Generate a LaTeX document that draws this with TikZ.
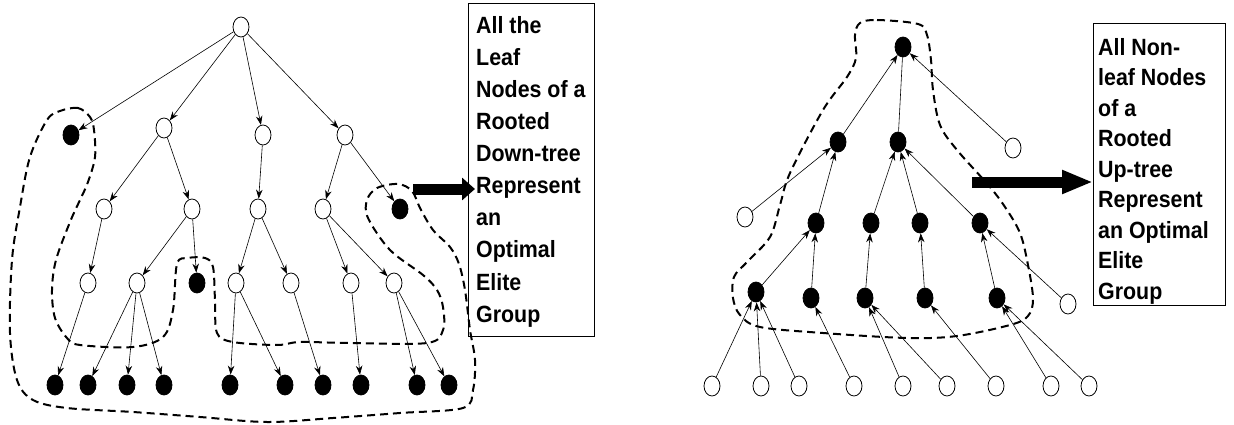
\documentclass[tikz,border=0pt]{standalone}
\usepackage{fontspec}
\setmainfont{Liberation Sans}
\newfontfamily\capfont{Liberation Sans}[FakeStretch=0.91]
\usetikzlibrary{arrows.meta,shapes.geometric}

\begin{document}
\begin{tikzpicture}[x=1pt,y=-1pt,
  vtx/.style={ellipse,draw,line width=0.8pt,minimum width=16pt,minimum height=20pt,inner sep=0pt},
  open/.style={vtx,fill=white},
  full/.style={vtx,fill=black},
  edge/.style={line width=0.6pt,-{Stealth[length=9pt,width=6.5pt]}},
  plainedge/.style={line width=0.6pt},
  group/.style={dash pattern=on 8pt off 5pt,line width=2pt},
  frame/.style={draw,line width=0.8pt,anchor=north west,inner sep=0pt},
  caption/.style={align=left,anchor=north west,inner sep=0pt},
  pointer/.style={line width=11pt,-{Triangle[length=13pt,width=22pt]}}
]
\useasboundingbox (0,0) rectangle (1234,425);

% ---------- rooted down-tree ----------
\node[open] (r) at (241,27) {};
\node[full] (a) at (71,135) {};
\node[open] (b) at (164,128) {};
\node[open] (c) at (263,135) {};
\node[open] (d) at (345,135) {};
\node[open] (b1) at (104,209) {};
\node[open] (b2) at (192,209) {};
\node[open] (c1) at (258,209) {};
\node[open] (d1) at (323,209) {};
\node[full] (d2) at (400,209) {};
\node[open] (b1a) at (88,283) {};
\node[open] (b2a) at (137,283) {};
\node[full] (b2b) at (197,283) {};
\node[open] (c1a) at (236,283) {};
\node[open] (c1b) at (291,283) {};
\node[open] (d1a) at (351,283) {};
\node[open] (d1b) at (394,283) {};
\foreach \i/\x in {1/55,2/88,3/127,4/164,5/230,6/285,7/323,8/361,9/417,10/449}
  \node[full] (l\i) at (\x,385) {};

\foreach \p/\c in {r/a,r/b,r/c,r/d,b/b1,b/b2,c/c1,d/d1,d/d2,
    b1/b1a,b2/b2a,b2/b2b,c1/c1a,c1/c1b,d1/d1a,d1/d1b,
    b1a/l1,b2a/l2,b2a/l3,b2a/l4,c1a/l5,c1a/l6,c1b/l7,d1a/l8,d1b/l9,d1b/l10}
  \draw[edge] (\p) -- (\c);

% elite group of the down-tree
\draw[group] plot[smooth cycle,tension=0.55] coordinates {
  (90,117) (78,108) (60,111) (47,120) (30,157) (20,207) (12,260) (10,333)
  (17,380) (33,400) (67,408) (133,412) (200,417) (267,422) (333,418)
  (400,413) (463,408) (473,390) (475,360) (470,330) (465,290) (459,264)
  (450,247) (433,230) (420,208) (412,191) (398,184) (377,188) (367,200)
  (368,218) (390,250) (423,275) (437,290) (443,307) (443,330) (427,343)
  (350,343) (300,342) (277,345) (233,342) (217,333) (215,300) (213,267)
  (205,258) (188,258) (177,264) (173,310) (163,337) (133,347) (80,345)
  (67,338) (55,318) (52,290) (56,260) (70,222) (80,200) (88,182)
  (95,157) (94,130)};

\node[frame,minimum width=126pt,minimum height=333pt] (box1) at (468,3) {};
\node[caption,font=\capfont\bfseries\fontsize{23.5}{32.1}\selectfont] (txt1) at (476,16)
  {All the\\Leaf\\Nodes of a\\Rooted\\Down-tree\\Represent\\an\\Optimal\\Elite\\Group};
\coordinate (a1s) at (413,189);
\coordinate (a1e) at (475,189);
\draw[pointer] (a1s) -- (a1e);

% ---------- rooted up-tree ----------
\node[full] (R) at (903,47) {};
\node[full] (p1) at (838,142) {};
\node[full] (p2) at (898,142) {};
\node[open] (p3) at (1013,148) {};
\node[open] (q0) at (745,217) {};
\node[full] (q1) at (816,223) {};
\node[full] (q2) at (871,223) {};
\node[full] (q3) at (920,223) {};
\node[full] (q4) at (980,223) {};
\node[open] (q5) at (1068,304) {};
\node[full] (s1) at (756,292) {};
\node[full] (s2) at (811,298) {};
\node[full] (s3) at (865,298) {};
\node[full] (s4) at (925,298) {};
\node[full] (s5) at (997,298) {};
\foreach \i/\x in {1/712,2/761,3/799,4/854,5/903,6/947,7/996,8/1051,9/1089}
  \node[open] (t\i) at (\x,386) {};

\draw[plainedge] (p2) -- (R);
\foreach \c/\p in {p1/R,p3/R,q0/p1,q1/p1,q2/p2,q3/p2,q4/p2,
    s1/q1,s2/q1,s3/q2,s4/q3,s5/q4,q5/q4,
    t1/s1,t2/s1,t3/s1,t4/s2,t5/s3,t6/s3,t7/s4,t8/s5,t9/s5}
  \draw[edge] (\c) -- (\p);

% elite group of the up-tree
\draw[group] plot[smooth cycle,tension=0.55] coordinates {
  (860,23) (877,20) (918,24) (927,35) (931,60) (933,90) (940,125)
  (957,150) (990,187) (1007,210) (1020,233) (1027,260) (1033,298)
  (1028,316) (1010,325) (957,336) (907,338) (823,333) (760,327)
  (740,315) (733,298) (734,277) (747,262) (770,237) (780,205)
  (790,173) (823,110) (847,77) (856,58) (855,35)};

\node[frame,minimum width=132pt,minimum height=282pt] (box2) at (1093,23) {};
\node[caption,font=\capfont\bfseries\fontsize{23.5}{30.5}\selectfont] (txt2) at (1098,38)
  {All Non-\\leaf Nodes\\of a\\Rooted\\Up-tree\\Represent\\an Optimal\\Elite\\Group};
\coordinate (a2s) at (972,182);
\draw[pointer,-{Triangle[length=31pt,width=22pt]}] (a2s) -- (box2.west |- a2s);
\end{tikzpicture}
\end{document}
